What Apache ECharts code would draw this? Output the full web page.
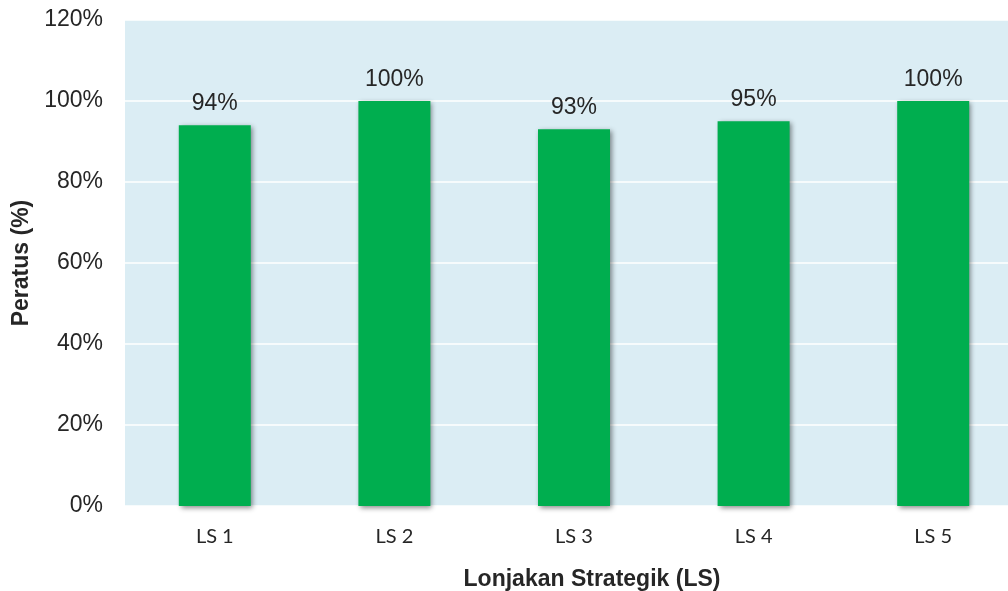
<!DOCTYPE html>
<html><head><meta charset="utf-8">
<script src="https://cdn.jsdelivr.net/npm/echarts@6/dist/echarts.min.js"></script>
<style>html,body{margin:0;padding:0;background:#fff;overflow:hidden}#c{width:1023px;height:591px}</style>
</head><body><div id="c"></div>
<script>
const categories = ['LS 1', 'LS 2', 'LS 3', 'LS 4', 'LS 5'];
const values = [94, 100, 93, 95, 100];
const yTicks = [0, 20, 40, 60, 80, 100, 120];

const chart = echarts.init(document.getElementById('c'), null, {renderer: 'canvas'});
chart.setOption({
  animation: false,
  title: [
    {text: 'Lonjakan Strategik (LS)', left: 587, top: 563, textAlign: 'center',
     textStyle: {fontFamily: 'Liberation Sans', fontWeight: 'bold', fontSize: 23, color: '#262626'}}
  ],
  grid: {left: 125, right: 0, top: 20, bottom: 85, show: true, backgroundColor: '#DBEDF4', borderWidth: 0,
         containLabel: false, outerBoundsMode: 'none'},
  xAxis: {
    type: 'category', data: categories,
    axisLine: {show: false}, axisTick: {show: false},
    axisLabel: {fontFamily: 'Lato', fontSize: 20, color: '#262626', margin: 21}
  },
  yAxis: {
    type: 'value', min: yTicks[0], max: yTicks[yTicks.length - 1], interval: 20,
    name: 'Peratus (%)', nameLocation: 'middle', nameGap: 89, nameRotate: 90,
    nameTextStyle: {fontFamily: 'Liberation Sans', fontWeight: 'bold', fontSize: 23, color: '#262626'},
    axisLine: {show: false}, axisTick: {show: false},
    axisLabel: {formatter: '{value}%', fontFamily: 'Liberation Sans', fontSize: 23, color: '#262626', margin: 22},
    splitLine: {lineStyle: {color: '#ffffff', width: 1.5}}
  },
  series: [{
    type: 'bar', data: values, barWidth: 72,
    itemStyle: {color: '#00AE4F', shadowBlur: 5, shadowOffsetX: 2, shadowOffsetY: 2, shadowColor: 'rgba(0,0,0,0.45)'},
    label: {show: true, position: 'top', distance: 10, formatter: '{c}%',
      fontFamily: 'Liberation Sans', fontSize: 23, color: '#262626'}
  }]
});
</script></body></html>
